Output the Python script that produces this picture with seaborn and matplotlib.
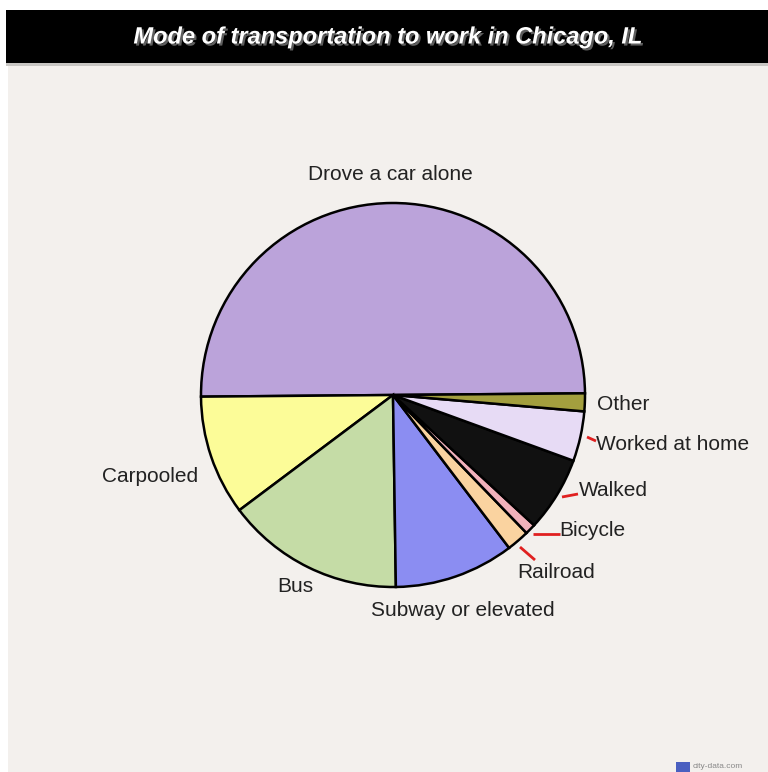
import matplotlib
matplotlib.use("Agg")
import matplotlib.pyplot as plt
import seaborn as sns
from matplotlib.patches import Rectangle
import matplotlib.patheffects as pe

sns.set_theme(style="white")
plt.rcParams['font.family'] = ['Liberation Sans', 'DejaVu Sans']

title = "Mode of transportation to work in Chicago, IL"
categories = ["Drove a car alone", "Carpooled", "Bus", "Subway or elevated",
              "Railroad", "Bicycle", "Walked", "Worked at home", "Other"]
values = [50.0, 10.1, 15.0, 10.1, 1.9, 0.9, 6.3, 4.2, 1.5]
colors = ["#BBA3DA", "#FCFC98", "#C5DCA6", "#8B8DF2", "#FAD3A0",
          "#F2B1BB", "#111111", "#E7DBF5", "#A39F3E"]

W, H = 768, 772
fig = plt.figure(figsize=(W / 100, H / 100), dpi=100)
fig.patch.set_facecolor("white")

# background panel
fig.patches.append(Rectangle((8 / W, 0), 1 - 8 / W, 1 - 62 / H,
                             transform=fig.transFigure, facecolor="#F3F0ED",
                             edgecolor="none", zorder=-10))
# title band
fig.patches.append(Rectangle((6 / W, 1 - 63 / H), 1 - 6 / W, 53 / H,
                             transform=fig.transFigure, facecolor="black",
                             edgecolor="none", zorder=-5))
fig.patches.append(Rectangle((6 / W, 1 - 66 / H), 1 - 6 / W, 3 / H,
                             transform=fig.transFigure, facecolor="#C8C6C3",
                             edgecolor="none", zorder=-5))
fig.text(388 / W, 1 - 37 / H, title, color="white", fontsize=17,
         fontweight="bold", fontstyle="italic", ha="center", va="center",
         path_effects=[pe.withSimplePatchShadow(offset=(1.5, -1.5),
                                                shadow_rgbFace="#777777", alpha=0.8)])

# pie axes
cx, cy, r = 393, 395, 192
ax = fig.add_axes([(cx - r) / W, (H - cy - r) / H, 2 * r / W, 2 * r / H])
ax.set_zorder(5)
ax.patch.set_visible(False)
ax.pie(values, colors=colors, startangle=0.5, counterclock=True,
       wedgeprops=dict(edgecolor="black", linewidth=1.8), radius=1.0)
ax.set_xlim(-1, 1)
ax.set_ylim(-1, 1)
ax.axis("off")


def d(px, py):
    return ((px - cx) / r, (cy - py) / r)


lab_fs = 15
label_pos = {
    "Drove a car alone": (390, 174, "center"),
    "Carpooled": (150, 476, "center"),
    "Bus": (295, 586, "center"),
    "Subway or elevated": (463, 610, "center"),
    "Railroad": (517, 572, "left"),
    "Bicycle": (559, 530, "left"),
    "Walked": (579, 491, "left"),
    "Worked at home": (596, 444, "left"),
    "Other": (597, 404, "left"),
}
for name in categories:
    px, py, ha = label_pos[name]
    x, y = d(px, py)
    ax.text(x, y, name, fontsize=lab_fs, color="#222222", ha=ha, va="center",
            clip_on=False)

leaders = [
    [(587, 437), (596, 441)],
    [(562, 497), (578, 494)],
    [(533, 534), (560, 534)],
    [(520, 547), (535, 560)],
]
for seg in leaders:
    xs, ys = zip(*[d(*p) for p in seg])
    ax.plot(xs, ys, color="#E02020", lw=2, clip_on=False, solid_capstyle="butt")

# watermark
fig.patches.append(Rectangle((676 / W, 1 - 772 / H), 14 / W, 10 / H,
                             transform=fig.transFigure, facecolor="#4A5FC0",
                             edgecolor="none", zorder=2))
fig.text(693 / W, 1 - 767 / H, "city-data.com", fontsize=6, color="#888888",
         ha="left", va="center")

fig.savefig("out.png", dpi=100, facecolor=fig.get_facecolor())
